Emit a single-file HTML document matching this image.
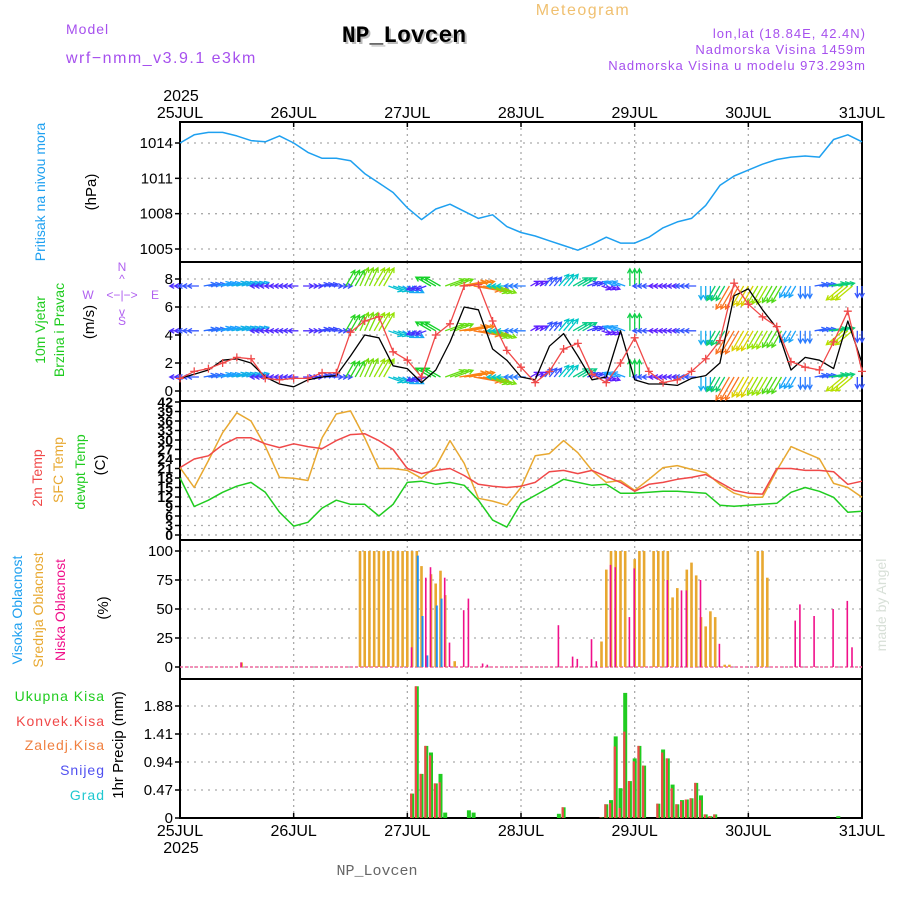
<!DOCTYPE html>
<html><head><meta charset="utf-8">
<style>
html,body{margin:0;padding:0;background:#fff;}
svg{display:block;font-family:"Liberation Sans",sans-serif;}
</style></head>
<body>
<svg id="c" width="900" height="900" viewBox="0 0 900 900">
<text x="66" y="34" font-size="14" fill="#a650ee" letter-spacing="1">Model</text>
<text x="66" y="63" font-size="16" fill="#a650ee" letter-spacing="1.5">wrf−nmm_v3.9.1 e3km</text>
<text x="406" y="44" font-size="23" font-weight="bold" fill="#bbb" text-anchor="middle" font-family="Liberation Mono,monospace">NP_Lovcen</text>
<text x="404" y="42" font-size="23" font-weight="bold" fill="#000" text-anchor="middle" font-family="Liberation Mono,monospace">NP_Lovcen</text>
<text x="583" y="15" font-size="16" fill="#f0c070" text-anchor="middle" letter-spacing="1.5">Meteogram</text>
<text x="866" y="38" font-size="13" fill="#a650ee" text-anchor="end" letter-spacing="1">lon,lat (18.84E, 42.4N)</text>
<text x="866" y="54" font-size="13" fill="#a650ee" text-anchor="end" letter-spacing="1">Nadmorska Visina 1459m</text>
<text x="866" y="70" font-size="13" fill="#a650ee" text-anchor="end" letter-spacing="1">Nadmorska Visina u modelu 973.293m</text>
<text x="181" y="101" font-size="16" text-anchor="middle">2025</text>
<text x="181" y="853" font-size="16" text-anchor="middle">2025</text>
<text x="377" y="875" font-size="15" fill="#666" text-anchor="middle" font-family="Liberation Mono,monospace">NP_Lovcen</text>
<text transform="translate(886,605) rotate(-90)" font-size="14" fill="#d8e0d8" text-anchor="middle">made by Angel</text>

<text transform="translate(45,192) rotate(-90)" font-size="14" fill="#1ea0f0" text-anchor="middle">Pritisak na nivou mora</text>
<text transform="translate(96,192) rotate(-90)" font-size="15" text-anchor="middle">(hPa)</text>
<text transform="translate(45,330) rotate(-90)" font-size="14" fill="#20cc20" text-anchor="middle">10m Vjetar</text>
<text transform="translate(64,330) rotate(-90)" font-size="14" fill="#20cc20" text-anchor="middle">Brzina i Pravac</text>
<text transform="translate(94,322) rotate(-90)" font-size="15" text-anchor="middle">(m/s)</text>
<g fill="#b060f0" font-size="12" text-anchor="middle">
<text x="122" y="271">N</text><text x="122" y="325">S</text><text x="88" y="299">W</text><text x="155" y="299">E</text>
<text x="122" y="299">&lt;−|−&gt;</text><text x="122" y="283">^</text><text x="122" y="316">v</text>
</g>
<text transform="translate(42,478) rotate(-90)" font-size="14" fill="#f04848" text-anchor="middle">2m Temp</text>
<text transform="translate(63,470) rotate(-90)" font-size="14" fill="#e8a830" text-anchor="middle">SFC Temp</text>
<text transform="translate(85,472) rotate(-90)" font-size="14" fill="#20cc20" text-anchor="middle">dewpt Temp</text>
<text transform="translate(105,465) rotate(-90)" font-size="15" text-anchor="middle">(C)</text>
<text transform="translate(22,610) rotate(-90)" font-size="14" fill="#1ea0f0" text-anchor="middle">Visoka Oblacnost</text>
<text transform="translate(43,610) rotate(-90)" font-size="14" fill="#e8a830" text-anchor="middle">Srednja Oblacnost</text>
<text transform="translate(65,610) rotate(-90)" font-size="14" fill="#f0108a" text-anchor="middle">Niska Oblacnost</text>
<text transform="translate(108,608) rotate(-90)" font-size="15" text-anchor="middle">(%)</text>
<g font-size="14" text-anchor="end" letter-spacing="1">
<text x="105" y="701" fill="#20cc20">Ukupna  Kisa</text>
<text x="105" y="726" fill="#f04848">Konvek.Kisa</text>
<text x="105" y="750" fill="#f08040">Zaledj.Kisa</text>
<text x="105" y="775" fill="#5050f0">Snijeg</text>
<text x="105" y="800" fill="#20c8d0">Grad</text>
</g>
<text transform="translate(123,745) rotate(-90)" font-size="15" text-anchor="middle">1hr Precip (mm)</text>
<g id="plot"></g>
</svg>
<script>
const dayLabels=["25JUL","26JUL","27JUL","28JUL","29JUL","30JUL","31JUL"];
const pTicks=[1005,1008,1011,1014];
const wTicks=[0,2,4,6,8];
const tTicks=[0,3,6,9,12,15,18,21,24,27,30,33,36,39,42];
const cTicks=[0,25,50,75,100];
const rTicks=[0,0.47,0.94,1.41,1.88];
// 3-hourly series (hours 0..144)
const pressure=[1014.0,1014.7,1014.9,1014.9,1014.6,1014.2,1014.1,1014.6,1014.0,1013.2,1012.7,1012.7,1012.5,1011.4,1010.6,1009.8,1008.5,1007.5,1008.4,1008.8,1008.2,1007.6,1007.9,1006.9,1006.4,1006.1,1005.7,1005.3,1004.9,1005.4,1006.0,1005.5,1005.5,1006.0,1006.8,1007.3,1007.6,1008.7,1010.4,1011.2,1011.7,1012.2,1012.6,1012.8,1012.9,1012.8,1014.3,1014.7,1014.1];
const windSpeed=[0.9,1.4,1.6,2.0,2.4,2.3,0.9,0.8,0.9,0.9,1.3,1.3,4.2,5.0,5.3,2.8,2.2,1.0,4.0,4.8,7.5,7.6,5.0,2.9,1.7,0.6,1.4,3.0,3.4,1.2,0.6,2.0,3.8,1.4,0.6,0.8,1.4,2.3,3.6,7.7,6.2,5.3,4.6,2.1,1.7,1.5,3.5,5.7,1.4];
const windOther=[0.9,1.2,1.5,2.2,2.3,2.0,1.0,0.5,0.3,0.8,1.0,1.1,2.5,4.0,3.8,1.8,1.6,0.6,1.5,3.5,6.0,5.8,3.0,2.2,1.0,0.8,3.2,4.1,2.5,0.8,1.0,4.3,0.8,0.5,0.5,0.4,0.9,1.1,2.0,6.8,7.3,5.8,4.5,1.5,2.4,2.2,1.6,5.0,2.0];
const windDir=[180,180,10,15,15,15,180,180,180,0,10,0,60,65,60,-20,-30,200,150,20,10,-10,-20,180,180,30,50,50,30,20,-20,160,90,180,180,180,180,-90,240,240,240,240,240,240,-90,10,10,220,-90];
const temp2m=[21.3,24,25,28.5,30.7,30.7,28.8,27.6,28.8,27.9,27.3,29.8,31.7,32,29.8,27,21,19.4,20.4,21,18.8,16,15.4,15,15.4,16.6,20,20.4,19.4,20.4,18.5,16.6,13.8,16,16.6,17.6,18.2,19.1,16.6,14.1,13.2,12.9,21,21,20.4,20.4,20,16,17];
const tempSfc=[21.3,15,23.5,32.3,38.6,36,28,18.2,17.9,17.2,30.7,38.2,39.2,30.7,21,21,20.4,17.9,21.6,29.8,22.6,11.6,10.7,9.4,15,25,25.7,29.8,26,20.4,16.6,17.2,14.1,17.6,21.3,21.9,20.7,19.7,16,13.2,11.9,11.9,20.4,27.9,26,24.1,16.3,15,11.9];
const dewpt=[18,9,11,13.5,15.4,16.6,13.5,7.2,2.8,4,8.5,11,9.7,9.7,6,9.7,16.6,17,16,16.6,15.7,11,4.7,2.5,10,12.5,15,17.6,16.6,15.7,16,13.2,13.2,13.5,13.8,13.8,13.5,13.2,9.4,9.1,9.4,9.7,10,13.5,15,13.8,11.9,7.2,7.5];
// hourly cloud bars
const midHours=[13,38,39,40,41,42,43,44,45,46,47,48,49,50,51,53,54,55,56,58,89,90,91,92,93,94,96,97,98,100,101,102,103,104,105,107,108,109,110,111,112,113,115,116,122,123,124];
const midVals=[4,100,100,100,100,100,100,100,100,100,100,100,100,100,87,80,72,83,62,5,22,84,100,100,100,100,93,100,100,100,100,100,100,60,68,84,90,79,43,35,48,43,2,2,100,100,77];
const highHours=[50,51,52,54,55];
const highVals=[96,44,10,53,59];
const lowHours=[13,49,52,53,56,57,60,61,64,65,80,83,84,87,88,91,92,95,96,103,106,107,110,114,130,131,134,138,141,142];
const lowVals=[4,17,77,86,77,21,49,59,3,2,36,9,7,24,5,88,86,43,85,75,66,66,75,20,40,54,44,50,57,17];
// hourly precipitation
const rainHours=[49,50,51,52,53,54,55,56,61,62,80,81,89,90,91,92,93,94,95,96,97,98,101,102,103,104,105,106,107,108,109,110,111,112,113,139];
const rainTotal=[0.41,2.21,0.74,1.21,1.10,0.58,0.74,0.09,0.13,0.09,0.07,0.18,0.01,0.23,0.30,1.37,0.50,2.10,0.62,1.00,1.21,0.88,0.24,1.15,1.00,0.56,0.23,0.30,0.31,0.33,0.59,0.38,0.06,0.03,0.06,0.03];
const rainConv=[0.41,2.21,0.74,1.21,1.05,0.58,0.60,0,0,0,0,0.18,0.01,0.23,0.25,1.20,0.17,1.45,0.62,0.95,1.21,0.88,0.24,1.10,1.00,0.50,0.23,0.28,0.31,0.33,0.59,0.30,0.06,0.03,0.06,0];

const NS="http://www.w3.org/2000/svg";
const plot=document.getElementById('plot');
const X0=180,X1=862,HOURS=144;
const xh=h=>X0+(X1-X0)*h/HOURS;
function mk(tag,attrs,parent){const e=document.createElementNS(NS,tag);for(const k in attrs)e.setAttribute(k,attrs[k]);(parent||plot).appendChild(e);return e;}
function lin(v0,y0,v1,y1){return v=>y0+(v-v0)*(y1-y0)/(v1-v0);}
const yP=lin(1014,143,1005,249);
const yW=lin(0,391,8,279);
const yT=lin(0,535,42,402);
const yC=lin(0,667,100,551);
const yR=lin(0,818,1.88,706);
const panels=[[122,262,pTicks,yP,'pressure',v=>v],[262,401,wTicks,yW,'wind',v=>v],[401,540,tTicks,yT,'temp',v=>v],[540,679,cTicks,yC,'cloud',v=>v],[679,818,rTicks,yR,'precip',v=>v===0?'0':v.toFixed(2)]];

panels.forEach(([top,bot,ticks,ys,nm,fmt])=>{
  const g=mk('g',{});
  
  
  for(let d=1;d<6;d++){const l=mk('line',{x1:xh(d*24),x2:xh(d*24),y1:top,y2:bot,stroke:'#aaa','stroke-dasharray':'2,4','stroke-width':1.3},g);
    }
  ticks.forEach(t=>{const y=ys(t);
    if(y>top+2&&y<bot-2){const l=mk('line',{x1:X0,x2:X1,y1:y,y2:y,stroke:'#aaa','stroke-dasharray':'2,5','stroke-width':1.3},g);
      }
    const tk=mk('line',{x1:X0-5,x2:X0,y1:y,y2:y,stroke:'#000','stroke-width':1.5},g);
    
    const tx=mk('text',{x:X0-7,y:y+5,'font-size':nm==='temp'?14:15,'text-anchor':'end','font-weight':nm==='temp'?'bold':'normal'},g);
    
    tx.textContent=fmt(t);});
  const r=mk('rect',{x:X0,y:top,width:X1-X0,height:bot-top,fill:'none',stroke:'#000','stroke-width':2},g);
  
});
dayLabels.forEach((d,i)=>{
  const x=xh(i*24);
  const a=mk('text',{x:x,y:118,'font-size':16,'text-anchor':'middle'});a.textContent=d;
  
  const b=mk('text',{x:x,y:836,'font-size':16,'text-anchor':'middle'});b.textContent=d;
  
  const t1=mk('line',{x1:x,x2:x,y1:122,y2:127,stroke:'#000','stroke-width':1.5});
  
  const t2=mk('line',{x1:x,x2:x,y1:813,y2:818,stroke:'#000','stroke-width':1.5});
  
});
function line(arr,ys,color,name,w){
  const pts=arr.map((v,i)=>xh(i*3).toFixed(1)+','+ys(v).toFixed(1)).join(' ');
  const p=mk('polyline',{points:pts,fill:'none',stroke:color,'stroke-width':w||1.5,'stroke-linejoin':'round'});
  return p;
}
line(pressure,yP,'#1ea0f0','pressure-line');
function spdColor(s){
  const stops=[[0,[128,0,255]],[1.2,[60,60,255]],[2,[30,160,255]],[3,[0,200,200]],[4,[20,210,40]],[5.5,[170,230,0]],[6.5,[240,200,0]],[7.5,[250,130,20]],[9,[250,20,120]]];
  for(let i=1;i<stops.length;i++){if(s<=stops[i][0]){const [a,ca]=stops[i-1],[b,cb]=stops[i];const f=(s-a)/(b-a);
    return 'rgb('+ca.map((c,j)=>Math.round(c+(cb[j]-c)*f)).join(',')+')';}}
  return 'rgb(250,20,120)';
}
const arrowG=mk('g',{});


[7.5,4.3,1.0].forEach(row=>{
  windDir.forEach((d,i)=>{
    const s=windSpeed[i];const len=8+s*2.4;const a=d*Math.PI/180;
    const col=spdColor(s);
    const h1=a+Math.PI-0.5,h2=a+Math.PI+0.5;
    let dstr='';
    for(let k=-1;k<=1;k++){
      if(i*3+k<0||i*3+k>144) continue;
      const x1=xh(i*3+k),y1=yW(row);const x2=x1+len*Math.cos(a),y2=y1-len*Math.sin(a);
      dstr+=`M${x1.toFixed(1)},${y1.toFixed(1)}L${x2.toFixed(1)},${y2.toFixed(1)}M${(x2+5*Math.cos(h1)).toFixed(1)},${(y2-5*Math.sin(h1)).toFixed(1)}L${x2.toFixed(1)},${y2.toFixed(1)}L${(x2+5*Math.cos(h2)).toFixed(1)},${(y2-5*Math.sin(h2)).toFixed(1)}`;
    }
    const p=mk('path',{d:dstr,stroke:col,'stroke-width':1.3,fill:'none'},arrowG);
    
    
  });
});
line(windOther,yW,'#000','wind-gust-line',1.3);
line(windSpeed,yW,'#f04848','wind-speed-line',1.3);
windSpeed.forEach((v,i)=>{const x=xh(i*3),y=yW(v);
  const m=mk('path',{d:`M${x-4},${y}H${x+4}M${x},${y-4}V${y+4}`,stroke:'#f04848','stroke-width':1.3});
  });
line(dewpt,yT,'#20cc20','dewpt-line');
line(tempSfc,yT,'#e8a830','sfc-temp-line');
line(temp2m,yT,'#f04848','temp-2m-line');
const cb=mk('line',{x1:X0,x2:X1,y1:yC(0),y2:yC(0),stroke:'#f06aa0','stroke-width':1.5,'stroke-dasharray':'3,2'});

function bars(hours,vals,ys,color,w,off,name){
  hours.forEach((h,i)=>{const x=xh(h)+off;const y=ys(vals[i]);const y0=ys(0);
    const r=mk('rect',{x:(x-w/2).toFixed(1),y:y.toFixed(1),width:w,height:Math.max(0,y0-y).toFixed(1),fill:color});
    });
}
bars(midHours,midVals,yC,'#e8a830',2.6,0,'mid-cloud-bar');
bars(highHours,highVals,yC,'#1e90f0',2,1,'high-cloud-bar');
bars(lowHours,lowVals,yC,'#f0108a',1.6,-0.5,'low-cloud-bar');
bars(rainHours,rainTotal,yR,'#20cc20',4,0,'total-rain-bar');
bars(rainHours,rainConv,yR,'#f04848',2.2,-0.9,'convective-rain-bar');
</script>
</body></html>
